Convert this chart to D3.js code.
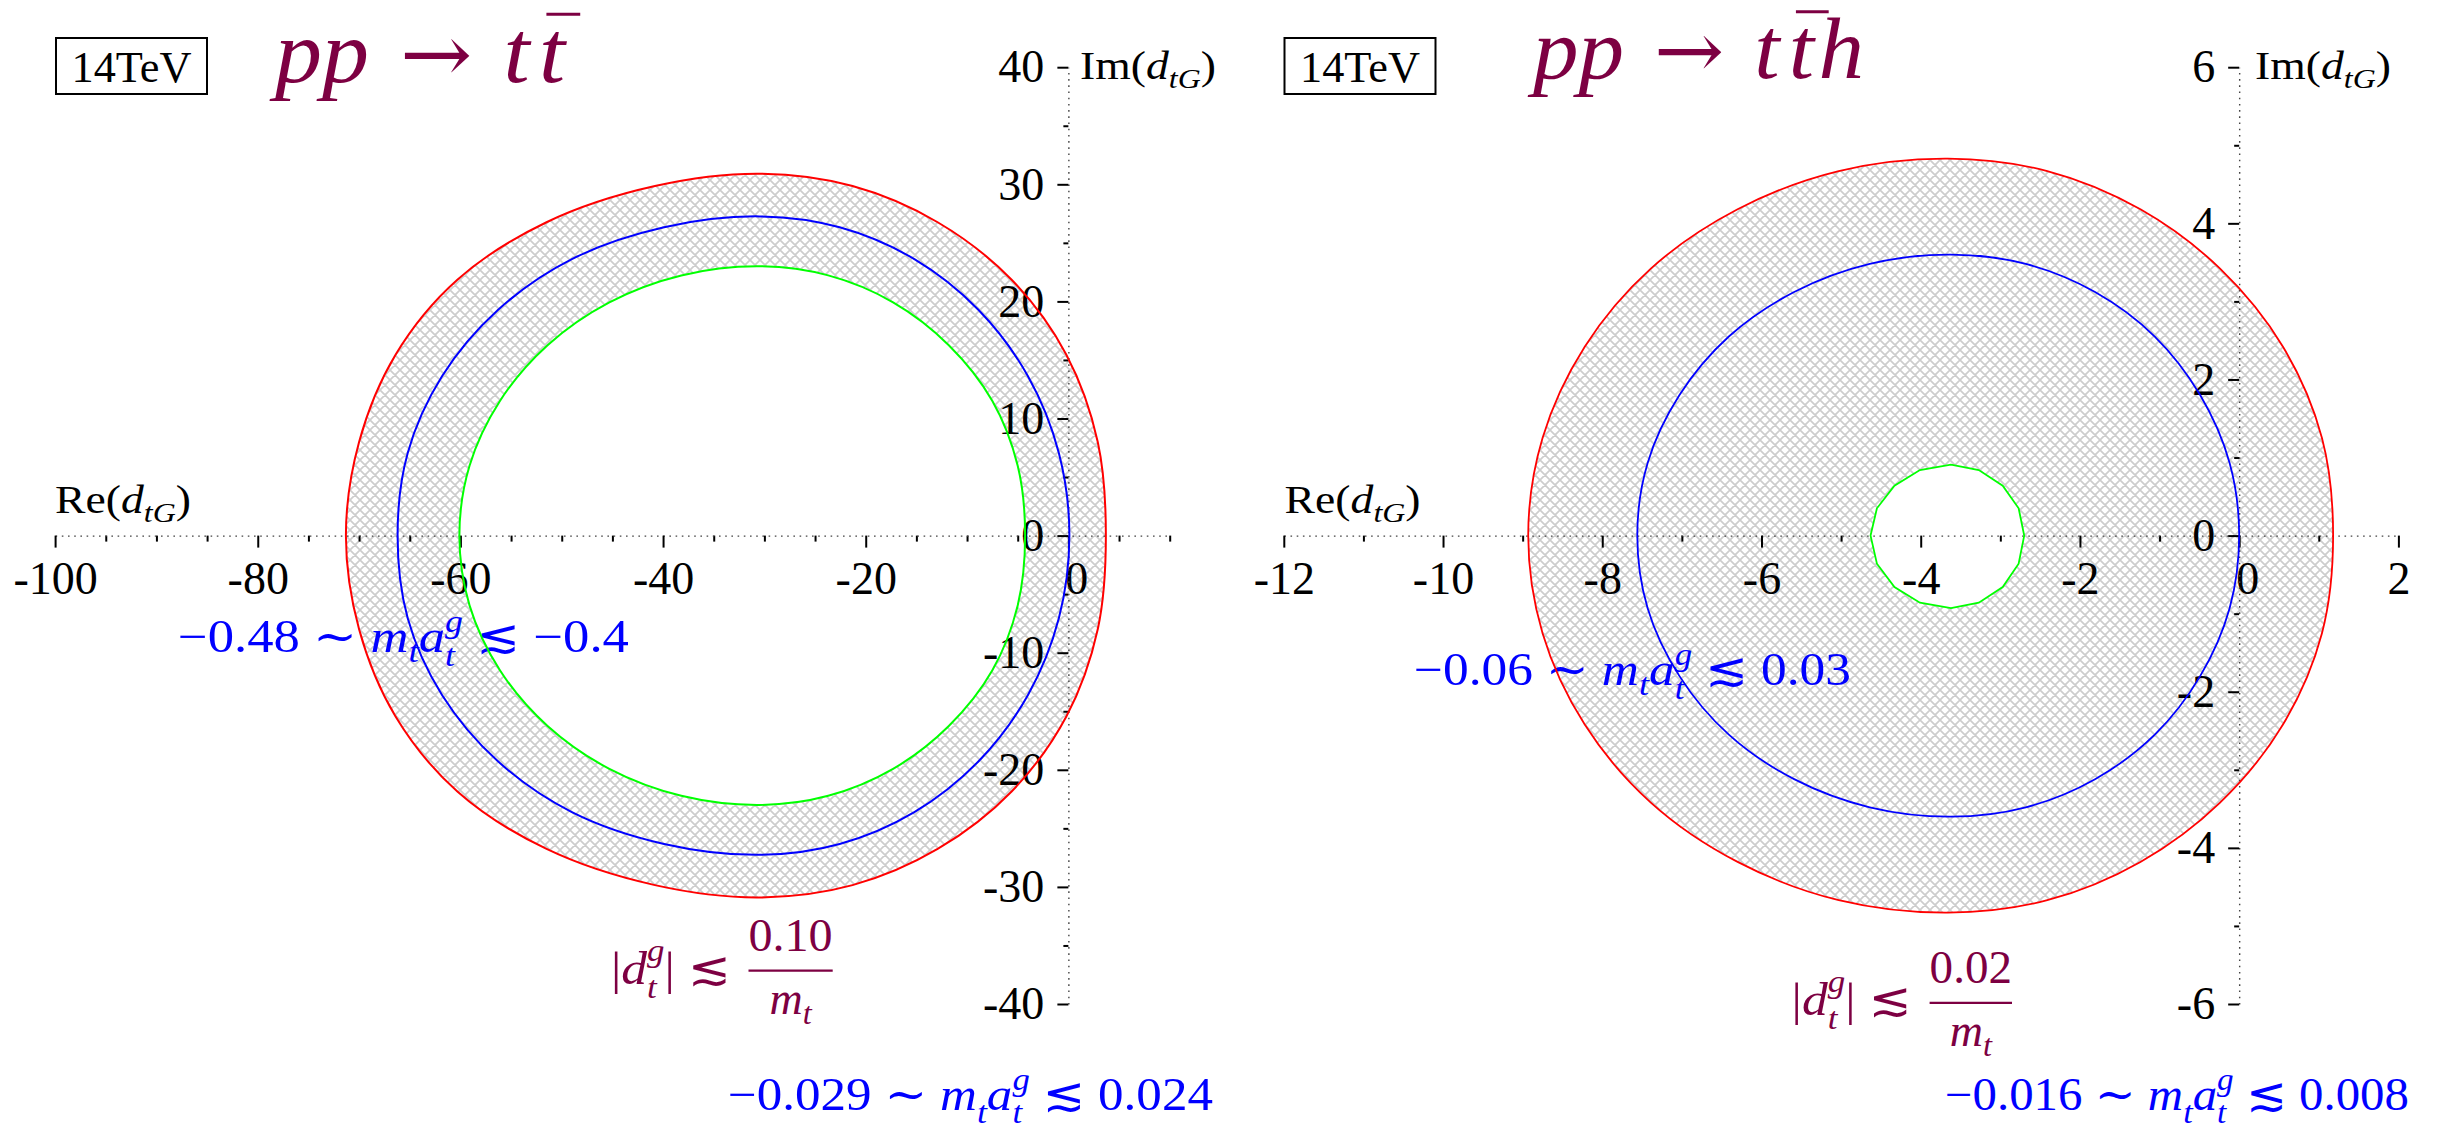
<!DOCTYPE html>
<html>
<head>
<meta charset="utf-8">
<script src="https://cdn.jsdelivr.net/npm/d3@7"></script>
<style>
  html, body { margin: 0; padding: 0; background: #fff; }
  svg { display: block; }
</style>
</head>
<body>
<svg id="chart" width="2453" height="1133"></svg>
<script>
// ---------------- data: contours in the complex d_tG plane ----------------
// each contour is a closed loop of [Re(d_tG), Im(d_tG)] points

// pp -> t tbar (14 TeV)
const ttRed = [
  [3.7,0],[2.9,8.0],[-0.2,15.45],[-5.6,21.85],[-12.9,26.76],[-21.3,29.85],[-30.5,30.9],
  [-40.8,29.85],[-51.5,26.76],[-60.3,21.85],[-66.4,15.45],[-70.0,8.0],[-71.3,0],
  [-70.0,-8.0],[-66.4,-15.45],[-60.3,-21.85],[-51.5,-26.76],[-40.8,-29.85],[-30.5,-30.9],
  [-21.3,-29.85],[-12.9,-26.76],[-5.6,-21.85],[-0.2,-15.45],[2.9,-8.0]
];
const ttBlue = [
  [0.1,0],[-0.94,7.06],[-4.0,13.63],[-8.86,19.27],[-15.2,23.61],[-22.57,26.33],[-30.5,27.26],
  [-39.9,26.33],[-49.0,23.61],[-56.3,19.27],[-61.8,13.63],[-65.2,7.06],[-66.2,0],
  [-65.2,-7.06],[-61.8,-13.63],[-56.3,-19.27],[-49.0,-23.61],[-39.9,-26.33],[-30.5,-27.26],
  [-22.57,-26.33],[-15.2,-23.61],[-8.86,-19.27],[-4.0,-13.63],[-0.94,-7.06]
];
const ttGreen = [
  [-4.27,0],[-5.0,5.96],[-7.5,11.5],[-11.8,16.26],[-17.3,19.92],[-23.7,22.22],[-30.5,23.0],
  [-38.2,22.22],[-45.3,19.92],[-51.4,16.26],[-56.1,11.5],[-59.1,5.96],[-60.1,0],
  [-59.1,-5.96],[-56.1,-11.5],[-51.4,-16.26],[-45.3,-19.92],[-38.2,-22.22],[-30.5,-23.0],
  [-23.7,-22.22],[-17.3,-19.92],[-11.8,-16.26],[-7.5,-11.5],[-5.0,-5.96]
];

// pp -> t tbar h (14 TeV)
const tthRed = [
  [1.18,0],[1.04,1.25],[0.55,2.42],[-0.24,3.42],[-1.24,4.18],[-2.41,4.67],[-3.66,4.83],
  [-5.03,4.67],[-6.30,4.18],[-7.39,3.42],[-8.22,2.42],[-8.75,1.25],[-8.93,0],
  [-8.75,-1.25],[-8.22,-2.42],[-7.39,-3.42],[-6.30,-4.18],[-5.03,-4.67],[-3.66,-4.83],
  [-2.41,-4.67],[-1.24,-4.18],[-0.24,-3.42],[0.55,-2.42],[1.04,-1.25]
];
const tthBlue = [
  [0,0],[-0.12,0.93],[-0.49,1.8],[-1.06,2.55],[-1.81,3.12],[-2.68,3.48],[-3.62,3.6],
  [-4.64,3.48],[-5.59,3.12],[-6.41,2.55],[-7.03,1.8],[-7.43,0.93],[-7.56,0],
  [-7.43,-0.93],[-7.03,-1.8],[-6.41,-2.55],[-5.59,-3.12],[-4.64,-3.48],[-3.62,-3.6],
  [-2.68,-3.48],[-1.81,-3.12],[-1.06,-2.55],[-0.49,-1.8],[-0.12,-0.93]
];
const tthGreen = [
  [-2.70,0],[-2.77,0.35],[-2.97,0.64],[-3.27,0.84],[-3.62,0.91],[-4.01,0.84],[-4.33,0.64],
  [-4.55,0.35],[-4.63,0],[-4.55,-0.36],[-4.33,-0.66],[-4.01,-0.86],[-3.62,-0.93],
  [-3.27,-0.86],[-2.97,-0.66],[-2.77,-0.36]
];

// axis ticks
const ttXMajor = [-100,-80,-60,-40,-20,0];
const ttXMinor = [-95,-90,-85,-75,-70,-65,-55,-50,-45,-35,-30,-25,-15,-10,-5,5,10];
const ttYMajor = [-40,-30,-20,-10,0,10,20,30,40];
const ttYMinor = [-35,-25,-15,-5,5,15,25,35];
const tthXMajor = [-12,-10,-8,-6,-4,-2,0,2];
const tthXMinor = [-11,-9,-7,-5,-3,-1,1];
const tthYMajor = [-6,-4,-2,0,2,4,6];
const tthYMinor = [-5,-3,-1,1,3,5];

// ---------------- drawing ----------------
const SERIF = "'Liberation Serif','DejaVu Serif','DejaVu Sans',serif";
const ARROW = "'DejaVu Sans ExtraLight','DejaVu Serif','DejaVu Sans',serif";
const MAROON = "#7d0042";
const BLUE = "#0000ff";

const svg = d3.select("#chart");
const defs = svg.append("defs");
const hatch = defs.append("pattern")
  .attr("id", "xhatch").attr("patternUnits", "userSpaceOnUse")
  .attr("width", 10).attr("height", 10);
hatch.append("path")
  .attr("d", "M-1,-1L11,11M11,-1L-1,11M-1,1L1,-1M9,11L11,9M9,-1L11,1M-1,9L1,11")
  .attr("stroke", "#cdcdcd").attr("stroke-width", 1.7).attr("fill", "none");

const layerHatch = svg.append("g");
const layerAxes = svg.append("g");
const layerText = svg.append("g");
const layerCurves = svg.append("g");

// one text row made of roman / italic / sub / superscript pieces, measured piece by piece
function mathRow(parent, pieces, o) {
  const g = parent.append("g");
  const text = g.append("text")
    .attr("font-family", SERIF).attr("font-size", o.size).attr("fill", o.color || "#000");
  let cur = 0, lastStart = 0;
  const bars = [];
  pieces.forEach(p => {
    const start = p.stack ? lastStart : cur + (p.gap || 0) * o.size;
    const ts = text.append("tspan")
      .attr("x", start).attr("y", (p.dy || 0) * o.size)
      .attr("font-size", o.size * (p.sc || 1))
      .attr("font-style", p.it ? "italic" : "normal")
      .text(p.s);
    if (p.font) ts.attr("font-family", p.font);
    const w = ts.node().getComputedTextLength();
    if (!p.stack) lastStart = start;
    cur = Math.max(cur, start + w);
    if (p.bar) bars.push(start);
  });
  bars.forEach(s => g.append("line")
    .attr("x1", s + 0.08 * o.size).attr("x2", s + 0.44 * o.size)
    .attr("y1", -0.77 * o.size).attr("y2", -0.77 * o.size)
    .attr("stroke", o.color).attr("stroke-width", 3));
  const sx = o.width ? o.width / cur : 1;
  const left = o.anchor === "middle" ? o.x - cur * sx / 2 : o.x;
  g.attr("transform", `translate(${left},${o.y}) scale(${sx},1)`);
  return g;
}

function drawPanel(p) {
  const x = d3.scaleLinear().domain(p.xDomain).range(p.xRange);
  const y = d3.scaleLinear().domain(p.yDomain).range([1004, 67.2]);
  const smooth = d3.line().x(d => x(d[0])).y(d => y(d[1])).curve(d3.curveCatmullRomClosed.alpha(0.5));
  const inner = d3.line().x(d => x(d[0])).y(d => y(d[1])).curve(p.innerCurve);

  // hatched band between outer (red) and inner (green) contours
  layerHatch.append("path")
    .attr("d", smooth(p.red) + inner(p.green))
    .attr("fill", "url(#xhatch)").attr("fill-rule", "evenodd");

  // horizontal axis through Im = 0
  const ax = layerAxes.append("g").attr("transform", `translate(0,${y(0)})`);
  const axMinor = ax.append("g").call(d3.axisBottom(x).tickValues(p.xMinor).tickSize(6)
    .tickSizeOuter(0).tickFormat(() => ""));
  axMinor.select(".domain").remove();
  const axMajor = ax.append("g").call(d3.axisBottom(x).tickValues(p.xMajor).tickSize(12)
    .tickSizeOuter(0).tickPadding(14).tickFormat(d => String(d)));
  axMajor.select(".domain").attr("stroke", "#444").attr("stroke-width", 1.4)
    .attr("stroke-dasharray", "1.6,4.6");
  axMajor.selectAll(".tick text").filter(d => d === 0).attr("x", 8);

  // vertical axis through Re = 0
  const ay = layerAxes.append("g").attr("transform", `translate(${x(0)},0)`);
  const ayMinor = ay.append("g").call(d3.axisLeft(y).tickValues(p.yMinor).tickSize(5)
    .tickSizeOuter(0).tickFormat(() => ""));
  ayMinor.select(".domain").remove();
  const ayMajor = ay.append("g").call(d3.axisLeft(y).tickValues(p.yMajor).tickSize(11)
    .tickSizeOuter(0).tickPadding(13).tickFormat(d => String(d)));
  ayMajor.select(".domain").attr("stroke", "#444").attr("stroke-width", 1.4)
    .attr("stroke-dasharray", "1.6,4.6");

  [axMinor, axMajor, ayMinor, ayMajor].forEach(s => {
    s.attr("font-size", 46).attr("font-family", SERIF).attr("color", "#000");
    s.selectAll(".tick line").attr("stroke-width", 2);
  });

  // contour lines
  layerCurves.append("path").attr("d", smooth(p.red))
    .attr("fill", "none").attr("stroke", "#ff0000").attr("stroke-width", p.lw);
  layerCurves.append("path").attr("d", smooth(p.blue))
    .attr("fill", "none").attr("stroke", "#0000ff").attr("stroke-width", p.lw);
  layerCurves.append("path").attr("d", inner(p.green))
    .attr("fill", "none").attr("stroke", "#00ff00").attr("stroke-width", p.lw);
  return { x, y };
}

drawPanel({
  xDomain: [-100, 10], xRange: [55.1, 1169.7], yDomain: [-40, 40],
  red: ttRed, blue: ttBlue, green: ttGreen, innerCurve: d3.curveCatmullRomClosed.alpha(0.5),
  xMajor: ttXMajor, xMinor: ttXMinor, yMajor: ttYMajor, yMinor: ttYMinor, lw: 2
});
drawPanel({
  xDomain: [-12, 2], xRange: [1283.8, 2398.4], yDomain: [-6, 6],
  red: tthRed, blue: tthBlue, green: tthGreen, innerCurve: d3.curveLinearClosed,
  xMajor: tthXMajor, xMinor: tthXMinor, yMajor: tthYMajor, yMinor: tthYMinor, lw: 1.8
});

// ---------------- labels ----------------
const T = layerText;
const sub = (s, dy) => ({ s, it: 1, sc: 0.7, dy: dy || 0.22 });

// axis names
[55, 1284.6].forEach(x0 => mathRow(T,
  [{ s: "Re(" }, { s: "d", it: 1 }, sub("tG"), { s: ")" }],
  { x: x0, y: 513, size: 40, width: 136 }));
[1080, 2255].forEach(x0 => mathRow(T,
  [{ s: "Im(" }, { s: "d", it: 1 }, sub("tG"), { s: ")" }],
  { x: x0, y: 79, size: 40, width: 136 }));

// energy boxes
[56, 1284.5].forEach(x0 => {
  T.append("rect").attr("x", x0).attr("y", 38).attr("width", 151).attr("height", 56)
    .attr("fill", "none").attr("stroke", "#000").attr("stroke-width", 2);
  mathRow(T, [{ s: "14TeV" }], { x: x0 + 75.5, y: 82, size: 45, width: 120, anchor: "middle" });
});

// process titles
mathRow(T, [{ s: "pp", it: 1 }, { s: "→", gap: 0.33, font: ARROW, sc: 0.92 }, { s: "t", it: 1, gap: 0.33 },
            { s: "t", it: 1, gap: 0.1, bar: 1 }],
  { x: 275, y: 82, size: 88, width: 290, color: MAROON });
mathRow(T, [{ s: "pp", it: 1 }, { s: "→", gap: 0.33, font: ARROW, sc: 0.92 }, { s: "t", it: 1, gap: 0.33 },
            { s: "t", it: 1, gap: 0.1, bar: 1 }, { s: "h", it: 1, gap: 0.05 }],
  { x: 1533, y: 78, size: 86, width: 331, color: MAROON });

// bounds on m_t a_t^g (stacked super/subscript on a)
function aBound(lo, hi, x0, y0, w, subDy) {
  mathRow(T, [
    { s: lo }, { s: "∼", gap: 0.25 }, { s: "m", it: 1, gap: 0.25 }, sub("t", subDy), { s: "a", it: 1 },
    { s: "g", it: 1, sc: 0.68, dy: -0.44 }, { s: "t", it: 1, sc: 0.68, dy: subDy || 0.3, stack: 1 },
    { s: "≲", gap: 0.25 }, { s: hi, gap: 0.25 }
  ], { x: x0, y: y0, size: 46, width: w, color: BLUE });
}
aBound("−0.48", "−0.4", 178, 652, 451);
aBound("−0.029", "0.024", 728, 1110, 485, 0.28);
aBound("−0.06", "0.03", 1414, 685, 437);
aBound("−0.016", "0.008", 1945, 1110, 464, 0.28);

// bounds on |d_t^g|
function dBound(num, x0, yBase, barX0, barX1, barY) {
  mathRow(T, [
    { s: "|" }, { s: "d", it: 1 }, { s: "g", it: 1, sc: 0.68, dy: -0.5 },
    { s: "t", it: 1, sc: 0.68, dy: 0.3, stack: 1 }, { s: "|" }, { s: "≲", gap: 0.25 }
  ], { x: x0, y: yBase, size: 46, width: 120, color: MAROON });
  const cx = (barX0 + barX1) / 2;
  mathRow(T, [{ s: num }], { x: cx, y: barY - 20, size: 46, width: barX1 - barX0, anchor: "middle", color: MAROON });
  T.append("line").attr("x1", barX0).attr("x2", barX1).attr("y1", barY).attr("y2", barY)
    .attr("stroke", MAROON).attr("stroke-width", 2.2);
  mathRow(T, [{ s: "m", it: 1 }, sub("t")], { x: cx, y: barY + 43, size: 46, anchor: "middle", color: MAROON });
}
dBound("0.10", 611, 984, 748.5, 832.7, 970.7);
dBound("0.02", 1791.6, 1015, 1929.6, 2012, 1002.8);
</script>
</body>
</html>
